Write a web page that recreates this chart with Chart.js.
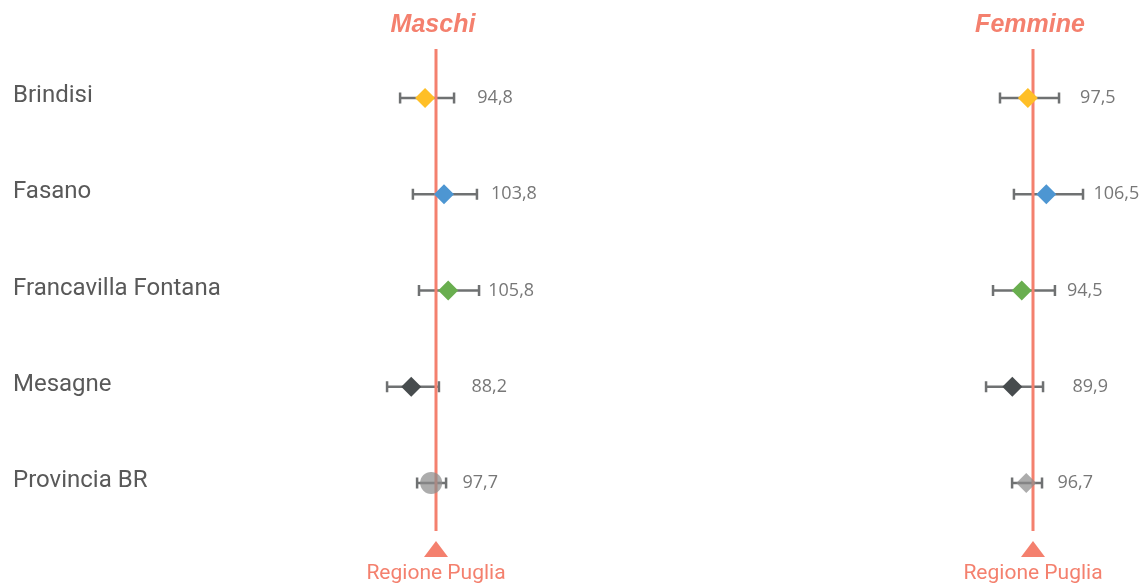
<!DOCTYPE html>
<html lang="it">
<head>
    <meta charset="UTF-8">
    <title>Forest plot</title>
    <style>
        body { margin: 0; background: #fff; }
        .wrap { position: relative; width: 1141px; height: 583px; overflow: hidden; }
        #chart-m { position: absolute; left: 0; top: 0; }
        #chart-f { position: absolute; left: 640px; top: 0; }
    </style>
</head>
<body>
<div class="wrap">
    <canvas id="chart-m" width="640" height="583"></canvas>
    <canvas id="chart-f" width="501" height="583"></canvas>
</div>
<script src="https://cdn.jsdelivr.net/npm/chart.js"></script>
<script>
    var categories = ['Brindisi', 'Fasano', 'Francavilla Fontana', 'Mesagne', 'Provincia BR'];

    var maschiValues = [94.8, 103.8, 105.8, 88.2, 97.7];
    var maschiLow = [82.9, 89.0, 91.9, 76.7, 91.0];
    var maschiHigh = [108.6, 119.5, 120.5, 101.4, 104.8];

    var femmineValues = [97.5, 106.5, 94.5, 89.9, 96.7];
    var femmineLow = [83.9, 90.7, 80.5, 77.1, 89.8];
    var femmineHigh = [112.7, 124.4, 110.7, 104.9, 104.4];

    var refValue = 100;
    var refLabel = 'Regione Puglia';

    var salmon = '#F4806E';
    var whiskerColor = '#6f7172';
    var pointColors = ['#FFBF27', '#4D96D2', '#69AE4F', '#474C4E', 'rgba(140,140,140,0.72)'];
    // distance (px) from the marker to the centre of its value label, per row
    var labelShift = [70, 70, 63, 78, 49];

    function fmt(v) {
        return v.toFixed(1).replace('.', ',');
    }

    // whiskers, reference line, value labels, title, marker at the bottom
    var forestPlugin = {
        id: 'forest',
        beforeDatasetsDraw: function(chart, args, opts) {
            var ctx = chart.ctx, xs = chart.scales.x, ys = chart.scales.y, area = chart.chartArea;
            ctx.save();
            ctx.strokeStyle = whiskerColor;
            ctx.lineWidth = 2.5;
            for (var i = 0; i < categories.length; i++) {
                var y = ys.getPixelForValue(i);
                var x1 = xs.getPixelForValue(opts.low[i]);
                var x2 = xs.getPixelForValue(opts.high[i]);
                ctx.beginPath();
                ctx.moveTo(x1, y); ctx.lineTo(x2, y);
                ctx.moveTo(x1, y - 5.5); ctx.lineTo(x1, y + 5.5);
                ctx.moveTo(x2, y - 5.5); ctx.lineTo(x2, y + 5.5);
                ctx.stroke();
            }
            var rx = xs.getPixelForValue(refValue);
            ctx.strokeStyle = salmon;
            ctx.lineWidth = 3;
            ctx.beginPath();
            ctx.moveTo(rx, area.top - 1);
            ctx.lineTo(rx, area.bottom);
            ctx.stroke();
            ctx.restore();
        },
        afterDatasetsDraw: function(chart, args, opts) {
            var ctx = chart.ctx, xs = chart.scales.x, ys = chart.scales.y, area = chart.chartArea;
            ctx.save();
            ctx.fillStyle = '#777777';
            ctx.font = '18px "Open Sans"';
            ctx.textAlign = 'center';
            ctx.textBaseline = 'middle';
            for (var i = 0; i < categories.length; i++) {
                var y = ys.getPixelForValue(i);
                ctx.fillText(fmt(opts.values[i]), xs.getPixelForValue(opts.values[i]) + labelShift[i], y);
            }
            var rx = xs.getPixelForValue(refValue);
            ctx.fillStyle = salmon;
            ctx.font = 'italic bold 25px "Liberation Sans"';
            ctx.fillText(opts.title, rx - 3, 25);
            ctx.beginPath();
            ctx.moveTo(rx, area.bottom + 10);
            ctx.lineTo(rx + 12, area.bottom + 26);
            ctx.lineTo(rx - 12, area.bottom + 26);
            ctx.closePath();
            ctx.fill();
            ctx.font = '21px Roboto';
            ctx.fillText(refLabel, rx, area.bottom + 43);
            ctx.restore();
        }
    };

    function makeChart(id, title, values, low, high, styles, radii, showLabels, xMin, xMax, pad) {
        return new Chart(document.getElementById(id), {
            type: 'scatter',
            data: {
                datasets: [{
                    data: values.map(function(v, i) { return { x: v, y: categories[i] }; }),
                    pointStyle: styles,
                    pointRadius: radii,
                    pointHoverRadius: radii,
                    pointBackgroundColor: pointColors,
                    pointBorderWidth: 0,
                    showLine: false
                }]
            },
            options: {
                responsive: false,
                animation: false,
                events: [],
                layout: { padding: pad },
                plugins: {
                    legend: { display: false },
                    tooltip: { enabled: false },
                    forest: { title: title, values: values, low: low, high: high }
                },
                scales: {
                    x: { type: 'linear', min: xMin, max: xMax, display: false },
                    y: {
                        type: 'category',
                        labels: categories,
                        offset: true,
                        display: showLabels,
                        grid: { display: false },
                        border: { display: false },
                        afterFit: function(scale) { if (showLabels) scale.width = 255; },
                        ticks: {
                            crossAlign: 'far',
                            padding: 0,
                            labelOffset: -2,
                            color: '#595959',
                            font: { family: 'Roboto', size: 24 }
                        }
                    }
                }
            },
            plugins: [forestPlugin]
        });
    }

    makeChart('chart-m', 'Maschi', maschiValues, maschiLow, maschiHigh,
        ['rectRot', 'rectRot', 'rectRot', 'rectRot', 'circle'], [10, 10, 10, 10, 11],
        true, 20, 180, { top: 50, bottom: 52, left: 13, right: 36 });

    makeChart('chart-f', 'Femmine', femmineValues, femmineLow, femmineHigh,
        ['rectRot', 'rectRot', 'rectRot', 'rectRot', 'rectRot'], [10, 10, 10, 10, 10],
        false, 60, 140, { top: 50, bottom: 52, left: 311, right: 26 });
</script>
</body>
</html>
